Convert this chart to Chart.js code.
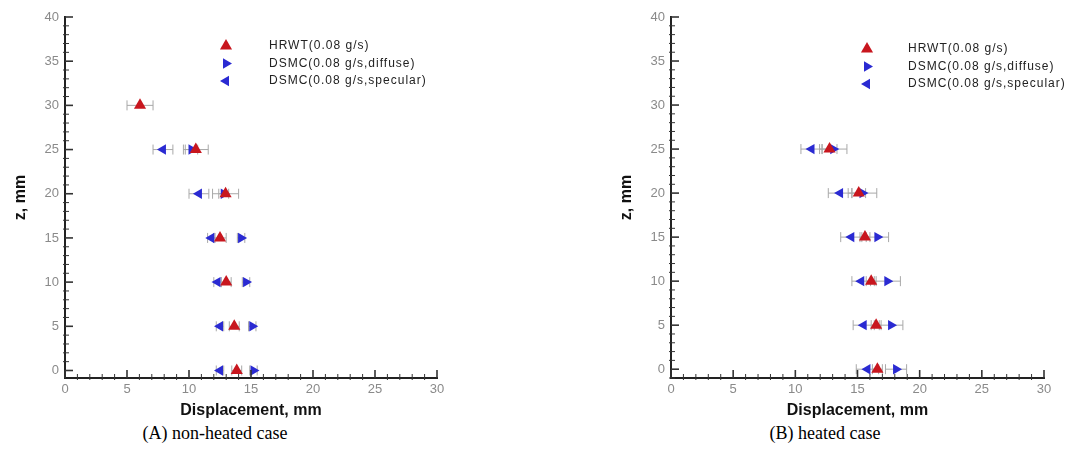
<!DOCTYPE html>
<html>
<head>
<meta charset="utf-8">
<script src="https://cdn.jsdelivr.net/npm/chart.js@4.4.0/dist/chart.umd.min.js"></script>
<style>
body { margin:0; background:#fff; width:1073px; height:457px; position:relative; overflow:hidden; }
.box { position:absolute; top:0; height:420px; }
#boxA { left:0; width:520px; }
#boxB { left:606px; width:467px; }
.cap { position:absolute; top:423px; line-height:20px; font-family:"Liberation Serif", serif; font-size:18px; color:#000; transform:translateX(-50%); white-space:nowrap; }
</style>
</head>
<body>
<div class="box" id="boxA"><canvas id="chartA" width="520" height="420"></canvas></div>
<div class="box" id="boxB"><canvas id="chartB" width="467" height="420"></canvas></div>
<div class="cap" style="left:215px">(A) non-heated case</div>
<div class="cap" style="left:825px">(B) heated case</div>
<script>
// tick labels
const xTicks = [0, 5, 10, 15, 20, 25, 30]
const yTicks = [0, 5, 10, 15, 20, 25, 30, 35, 40]

// z positions, mm
const zHrwtA = [0, 5, 10, 15, 20, 25, 30]
const zDsmc = [0, 5, 10, 15, 20, 25]

// (A) non-heated case
const hrwtA = [13.85, 13.65, 13.0, 12.5, 12.95, 10.55, 6.05]
const hrwtErrA = [0.4, 0.4, 0.4, 0.5, 1.05, 1.0, 1.05]
const diffA = [15.2, 15.1, 14.6, 14.2, 12.8, 10.2]
const diffErrA = [0.3, 0.3, 0.3, 0.3, 0.4, 0.5]
const specA = [12.5, 12.5, 12.3, 11.8, 10.8, 7.9]
const specErrA = [0.3, 0.3, 0.3, 0.3, 0.8, 0.8]

// (B) heated case
const hrwtB = [16.6, 16.5, 16.1, 15.6, 15.1, 12.75]
const hrwtErrB = [0.4, 0.4, 0.4, 0.4, 0.55, 0.6]
const diffB = [18.1, 17.7, 17.4, 16.6, 15.4, 13.05]
const diffErrB = [0.85, 0.95, 1.05, 0.9, 1.15, 1.1]
const specB = [15.8, 15.5, 15.3, 14.5, 13.6, 11.3]
const specErrB = [0.9, 0.85, 0.75, 0.85, 0.95, 0.85]

const labels = ["HRWT(0.08 g/s)", "DSMC(0.08 g/s,diffuse)", "DSMC(0.08 g/s,specular)"]
const red = "#c8161e"
const blue = "#2a2ad2"

function toPoints(zs, xs){
  return xs.map((v, i) => ({x: v, y: zs[i]}))
}

function drawTri(ctx, x, y, r, rotDeg){
  let a = rotDeg * Math.PI / 180
  ctx.beginPath()
  for(let k = 0; k < 3; k++){
    const px = x + Math.sin(a) * r
    const py = y - Math.cos(a) * r
    if(k == 0) ctx.moveTo(px, py); else ctx.lineTo(px, py)
    a += 2 * Math.PI / 3
  }
  ctx.closePath()
  ctx.fill()
}

// horizontal error bars, drawn under the markers
const errorBars = {
  id: "errorBars",
  beforeDatasetsDraw(chart){
    const {ctx, scales: {x, y}} = chart
    ctx.save()
    ctx.strokeStyle = "#a8a8a8"
    ctx.lineWidth = 1
    chart.data.datasets.forEach(ds => {
      ds.data.forEach((p, j) => {
        const e = ds.errors[j]
        const x0 = x.getPixelForValue(p.x - e)
        const x1 = x.getPixelForValue(p.x + e)
        const py = y.getPixelForValue(p.y)
        ctx.beginPath()
        ctx.moveTo(x0, py); ctx.lineTo(x1, py)
        ctx.moveTo(x0, py - 5); ctx.lineTo(x0, py + 5)
        ctx.moveTo(x1, py - 5); ctx.lineTo(x1, py + 5)
        ctx.stroke()
      })
    })
    ctx.restore()
  }
}

// inward major / minor ticks
const axisTicks = {
  id: "axisTicks",
  afterDraw(chart){
    const {ctx, chartArea, scales: {x, y}} = chart
    ctx.save()
    ctx.strokeStyle = "#333"
    for(let v = Math.ceil(x.min); v <= x.max; v++){
      const px = x.getPixelForValue(v)
      const major = v % 5 == 0
      ctx.lineWidth = major ? 1.6 : 1
      ctx.beginPath()
      ctx.moveTo(px, chartArea.bottom + (major ? 0 : 2))
      ctx.lineTo(px, chartArea.bottom - (major ? 8 : 4))
      ctx.stroke()
    }
    for(let v = Math.ceil(y.min); v <= y.max; v++){
      const py = y.getPixelForValue(v)
      const major = v % 5 == 0
      ctx.lineWidth = major ? 1.6 : 1
      ctx.beginPath()
      ctx.moveTo(chartArea.left - (major ? 0 : 2), py)
      ctx.lineTo(chartArea.left + (major ? 8 : 4), py)
      ctx.stroke()
    }
    ctx.restore()
  }
}

// legend inside the plot
const inLegend = {
  id: "inLegend",
  afterDraw(chart, args, opts){
    const ctx = chart.ctx
    ctx.save()
    ctx.font = "12px 'Liberation Sans', Arial, sans-serif"
    ctx.letterSpacing = "1px"
    ctx.textBaseline = "middle"
    chart.data.datasets.forEach((ds, i) => {
      const ly = opts.y + i * opts.gap
      ctx.fillStyle = ds.backgroundColor
      drawTri(ctx, opts.x, ly, ds.pointRadius, ds.pointRotation)
      ctx.fillStyle = "#222"
      ctx.fillText(ds.label, opts.textX, ly)
    })
    ctx.restore()
  }
}

function makeChart(id, sets, yMin, padRight, legendPos){
  new Chart(id, {
    type: "scatter",
    data: {
      datasets: sets.map((s, i) => ({
        label: labels[i],
        data: toPoints(s.z, s.vals),
        errors: s.errs,
        pointStyle: "triangle",
        pointRotation: s.rot,
        pointRadius: s.r,
        backgroundColor: s.color,
        borderColor: s.color,
        borderWidth: 0,
        showLine: false
      }))
    },
    options: {
      responsive: false,
      animation: false,
      layout: {padding: {left: 0, top: 17, right: padRight, bottom: 0}},
      plugins: {
        legend: {display: false},
        tooltip: {enabled: false},
        inLegend: legendPos
      },
      scales: {
        x: {
          type: "linear", min: 0, max: 30,
          afterBuildTicks: s => { s.ticks = xTicks.map(v => ({value: v})) },
          afterFit: s => { s.height = 42 },
          grid: {display: false, drawTicks: false},
          border: {display: true, color: "#222", width: 2},
          ticks: {color: "#8a8a8a", font: {family: "Liberation Sans", size: 13}, padding: 4, maxRotation: 0},
          title: {display: true, text: "Displacement, mm", color: "#111",
                  font: {family: "Liberation Sans", size: 16, weight: "bold"}, padding: {top: 1, bottom: 0}}
        },
        y: {
          type: "linear", min: yMin, max: 40,
          afterBuildTicks: s => { s.ticks = yTicks.map(v => ({value: v})) },
          afterFit: s => { s.width = 65 },
          grid: {display: false, drawTicks: false},
          border: {display: true, color: "#222", width: 2},
          ticks: {color: "#8a8a8a", font: {family: "Liberation Sans", size: 13}, padding: 6},
          title: {display: true, text: "z, mm", color: "#111",
                  font: {family: "Liberation Sans", size: 16, weight: "bold"}, padding: {top: 11, bottom: 0}}
        }
      }
    },
    plugins: [errorBars, axisTicks, inLegend]
  })
}

makeChart("chartA", [
  {z: zHrwtA, vals: hrwtA, errs: hrwtErrA, rot: 0, r: 7, color: red},
  {z: zDsmc, vals: diffA, errs: diffErrA, rot: 90, r: 6, color: blue},
  {z: zDsmc, vals: specA, errs: specErrA, rot: -90, r: 6, color: blue}
], -0.85, 83, {x: 226, y: 46, gap: 17.5, textX: 269})

makeChart("chartB", [
  {z: zDsmc, vals: hrwtB, errs: hrwtErrB, rot: 0, r: 7, color: red},
  {z: zDsmc, vals: diffB, errs: diffErrB, rot: 90, r: 6, color: blue},
  {z: zDsmc, vals: specB, errs: specErrB, rot: -90, r: 6, color: blue}
], -1.0, 29, {x: 261, y: 49, gap: 17.5, textX: 302})
</script>
</body>
</html>
